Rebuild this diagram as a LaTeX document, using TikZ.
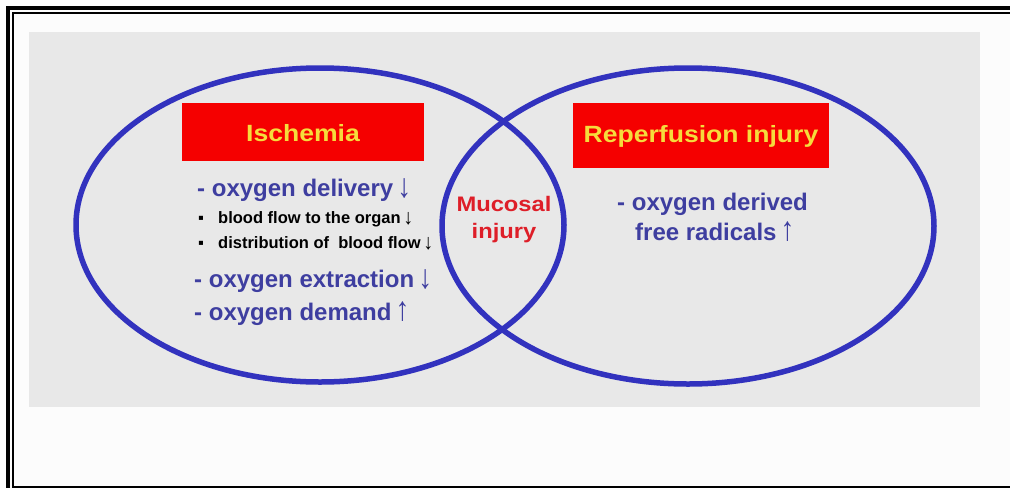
\documentclass[tikz,border=0pt]{standalone}
\usepackage{fontspec}
\setmainfont{Liberation Sans}
\newfontfamily\hdfont[FakeStretch=1.13]{Liberation Sans}
\definecolor{panel}{RGB}{232,232,232}
\definecolor{ringblue}{RGB}{50,50,190}
\definecolor{txtblue}{RGB}{62,62,160}
\definecolor{boxred}{RGB}{245,0,0}
\definecolor{hdyellow}{RGB}{245,220,60}
\definecolor{mucred}{RGB}{222,30,40}
\definecolor{pagebg}{RGB}{252,252,252}
\newcommand{\bigdn}{\,\raisebox{-1pt}{\scalebox{1.15}[1.4]{↓}}}
\newcommand{\bigup}{\,\raisebox{0pt}{\scalebox{1.15}[1.4]{↑}}}
\newcommand{\smdn}{\,\raisebox{-1pt}{\scalebox{1.2}[1.3]{↓}}}
\tikzset{
  ring/.style={draw=ringblue, line width=5.5pt},
  redbox/.style={fill=boxred, draw=none},
  head/.style={text=hdyellow, font=\hdfont\bfseries\fontsize{23.5}{26}\selectfont, inner sep=0pt},
  bluetxt/.style={text=txtblue, font=\bfseries\fontsize{24}{27}\selectfont, anchor=base west, inner sep=0pt},
  smalltxt/.style={text=black, font=\bfseries\fontsize{16.5}{19}\selectfont, anchor=base west, inner sep=0pt},
  muctxt/.style={text=mucred, font=\hdfont\bfseries\fontsize{21}{24}\selectfont, anchor=base, inner sep=0pt},
}
\begin{document}
\begin{tikzpicture}[x=1pt, y=-1pt]
\useasboundingbox (0,0) rectangle (1010,488);
\fill[pagebg] (0,0) rectangle (1010,488);
% frame
\fill[black] (6,6) rectangle (1010,10);
\fill[black] (6,6) rectangle (10,488);
\fill[black] (12,12) rectangle (1010,14);
\fill[black] (12,12) rectangle (14,488);
\fill[black] (12,486) rectangle (1010,488);
% grey panel
\fill[panel] (29,32) rectangle (980,407);
% red header boxes
\fill[redbox] (182,103) rectangle (424,161);
\fill[redbox] (573,103) rectangle (829,168);
% ellipses
\draw[ring] (320,225) ellipse [x radius=244, y radius=157];
\draw[ring] (688,226) ellipse [x radius=246, y radius=158];
% headers
\node[head] (isch) at (303,133) {Ischemia};
\node[head] (reperf) at (701,136) {Reperfusion injury};
% left texts
\node[bluetxt] (l1) at (197,196) {- oxygen delivery\bigdn};
\node[smalltxt] (b1) at (198,223) {\makebox[20pt][l]{▪}blood flow to the organ\smdn};
\node[smalltxt] (b2) at (198,248) {\makebox[20pt][l]{▪}distribution of \ blood flow\smdn};
\node[bluetxt] (l2) at (194,287) {- oxygen extraction\bigdn};
\node[bluetxt] (l3) at (194,320) {- oxygen demand\bigup};
% centre
\node[muctxt] (muc1) at (504,211) {Mucosal};
\node[muctxt] (muc2) at (504,238) {injury};
% right texts
\node[bluetxt] (r1) at (617,210) {- oxygen derived};
\node[bluetxt] (r2) at (635,240) {free radicals\bigup};
\end{tikzpicture}
\end{document}
